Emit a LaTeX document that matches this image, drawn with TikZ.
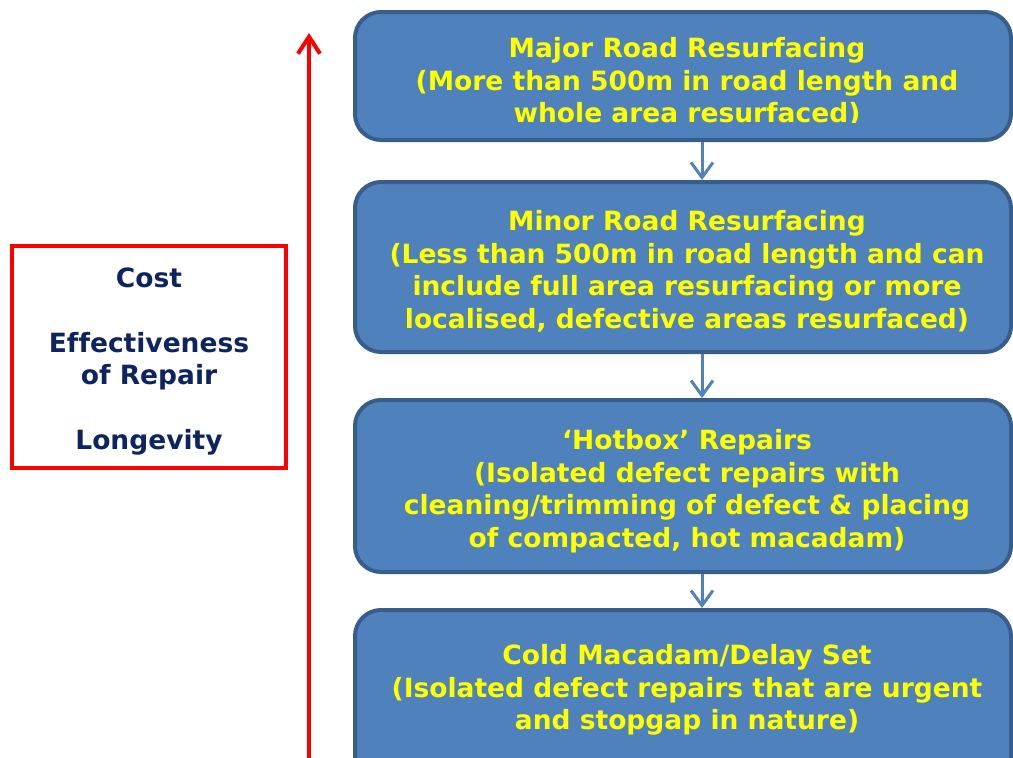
\documentclass[tikz,border=0pt]{standalone}
\usepackage{fontspec}
\setmainfont{DejaVu Sans}[Ligatures={TeX,NoCommon}]
\usetikzlibrary{arrows.meta}
\definecolor{boxfill}{HTML}{4F81BD}
\definecolor{boxline}{HTML}{385D8A}
\definecolor{navytext}{HTML}{0E2462}
\definecolor{yel}{HTML}{FFFF00}
\definecolor{redline}{HTML}{FF0000}
\tikzset{
  stepbox/.style={draw=boxline, fill=boxfill, line width=4pt, rounded corners=26pt, inner sep=0pt},
  steptext/.style={text=yel, font=\bfseries\fontsize{26.5}{32.5}\selectfont, align=center, inner sep=0pt},
  sidetext/.style={text=navytext, font=\bfseries\fontsize{26.5}{32.5}\selectfont, align=center, inner sep=0pt},
  flow/.style={draw=boxfill, line width=3pt, -{Straight Barb[length=15pt,width=22pt,line width=3pt]}},
  bigarrow/.style={draw=redline, line width=4pt, -{Straight Barb[length=17pt,width=22pt,line width=4pt]}}
}
\begin{document}
\begin{tikzpicture}[x=1pt,y=-1pt]
\useasboundingbox (0,0) rectangle (1013,758);
\clip (0,0) rectangle (1013,758);
% boxes
\node[stepbox, minimum width=656pt, minimum height=128pt] (b1) at (683,76) {};
\node[stepbox, minimum width=656pt, minimum height=170pt] (b2) at (683,267) {};
\node[stepbox, minimum width=656pt, minimum height=172pt] (b3) at (683,486) {};
\node[stepbox, minimum width=656pt, minimum height=180pt] (b4) at (683,700) {};
% texts
\begin{scope}
\clip (340,0) rectangle (1013,122);
\node[steptext, anchor=north] (t1) at (687,37.5) {Major Road Resurfacing\\(More than 500m in road length and\\whole area resurfaced)};
\end{scope}
\node[steptext, anchor=north] (t2) at (687,210.5) {Minor Road Resurfacing\\(Less than 500m in road length and can\\include full area resurfacing or more\\localised, defective areas resurfaced)};
\node[steptext, anchor=north] (t3) at (687,429.5) {`Hotbox' Repairs\\(Isolated defect repairs with\\cleaning/trimming of defect \& placing\\of compacted, hot macadam)};
\node[steptext, anchor=north] (t4) at (687,644.5) {Cold Macadam/Delay Set\\(Isolated defect repairs that are urgent\\and stopgap in nature)};
% flow arrows
\draw[flow] (b1.south -| 702,0) -- (b2.north -| 702,0);
\draw[flow] (b2.south -| 702,0) -- (b3.north -| 702,0);
\draw[flow] (b3.south -| 702,0) -- (b4.north -| 702,0);
% red axis arrow
\coordinate (abot) at (309,770);
\coordinate (atop) at (309,33);
\draw[bigarrow] (abot) -- (atop);
% side box
\node[draw=redline, line width=4pt, minimum width=274pt, minimum height=222pt, inner sep=0pt] (side) at (149,357) {};
\node[sidetext, anchor=north] (st) at (149,267.5) {Cost\\[32.5pt]Effectiveness\\of Repair\\[32.5pt]Longevity};
\end{tikzpicture}
\end{document}
